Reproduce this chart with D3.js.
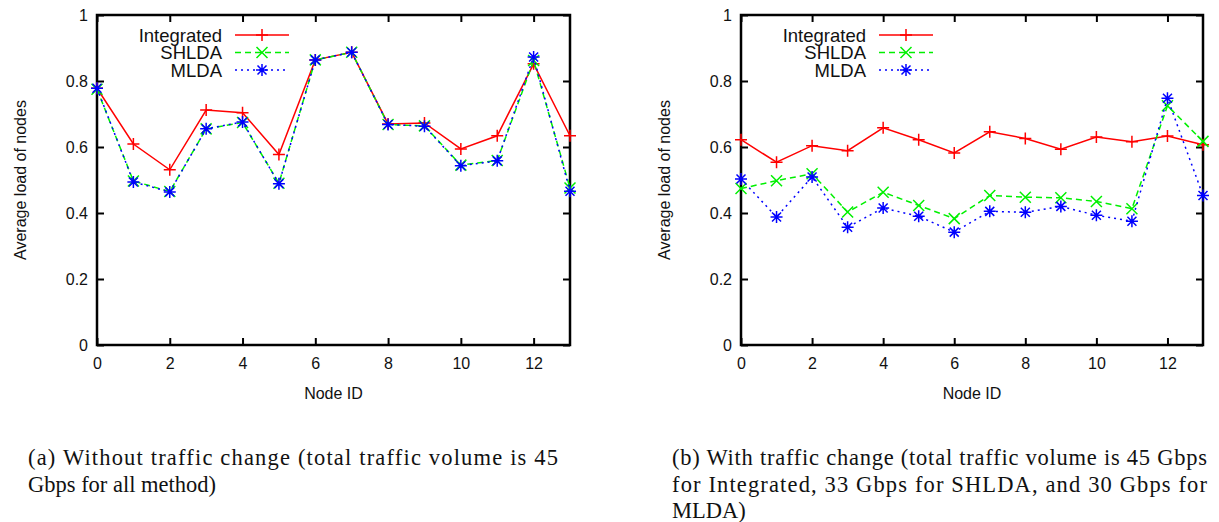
<!DOCTYPE html>
<html>
<head>
<meta charset="utf-8">
<script src="https://cdn.jsdelivr.net/npm/d3@7"></script>
<style>
  body { margin: 0; background: #fff; }
  svg { display: block; }
</style>
</head>
<body>
<svg id="chart"></svg>
<script>
const nodes = d3.range(0, 14);
const yTicks = [0, 0.2, 0.4, 0.6, 0.8, 1];
const xTicks = [0, 2, 4, 6, 8, 10, 12];
const seriesNames = ["Integrated", "SHLDA", "MLDA"];

// panel (a): without traffic change
const integratedA = [0.778, 0.609, 0.531, 0.712, 0.704, 0.577, 0.864, 0.887, 0.670, 0.673, 0.594, 0.634, 0.852, 0.634];
const shldaA      = [0.775, 0.497, 0.465, 0.655, 0.674, 0.490, 0.864, 0.887, 0.668, 0.664, 0.545, 0.559, 0.862, 0.476];
const mldaA       = [0.778, 0.494, 0.464, 0.655, 0.676, 0.489, 0.864, 0.887, 0.668, 0.663, 0.543, 0.558, 0.873, 0.466];

// panel (b): with traffic change
const integratedB = [0.622, 0.554, 0.604, 0.589, 0.658, 0.622, 0.582, 0.646, 0.626, 0.593, 0.630, 0.616, 0.633, 0.607];
const shldaB      = [0.474, 0.498, 0.519, 0.403, 0.463, 0.423, 0.383, 0.453, 0.448, 0.446, 0.435, 0.413, 0.725, 0.617];
const mldaB       = [0.503, 0.388, 0.509, 0.357, 0.415, 0.390, 0.342, 0.405, 0.402, 0.420, 0.393, 0.375, 0.748, 0.453];

const captionA = ["(a) Without traffic change (total traffic volume is 45", "Gbps for all method)"];
const captionB = ["(b) With traffic change (total traffic volume is 45 Gbps", "for Integrated, 33 Gbps for SHLDA, and 30 Gbps for", "MLDA)"];

const width = 1219;
const height = 522;

const svg = d3.select("#chart")
    .attr("width", width)
    .attr("height", height);

const styles = [
    { color: "#ff0000", dash: null, marker: "plus" },
    { color: "#00f000", dash: "6,4", marker: "cross" },
    { color: "#0000ff", dash: "2,4", marker: "star" }
];

// marker paths centered on 0,0
const markerPath = (type) => {
    const p = 6, c = 4.5;
    const plus = `M${-p},0H${p}M0,${-p}V${p}`;
    const cross = `M${-c},${-c}L${c},${c}M${-c},${c}L${c},${-c}`;
    if (type === "plus") return plus;
    if (type === "cross") return `M-5.5,-5.5L5.5,5.5M-5.5,5.5L5.5,-5.5`;
    return plus + cross;
};

const drawPanel = (left, right, series, legendRight, caption, captionX, captionW) => {
    const top = 15, bottom = 345;
    const x = d3.scaleLinear().domain([0, 13]).range([left, right]);
    const y = d3.scaleLinear().domain([0, 1]).range([bottom, top]);

    const g = svg.append("g");

    // inward ticks on all four sides
    g.append("g")
        .attr("transform", `translate(0,${bottom})`)
        .call(d3.axisBottom(x).tickValues(xTicks).tickSizeInner(-7).tickSizeOuter(0).tickPadding(13).tickFormat(d3.format("d")));
    g.append("g")
        .attr("transform", `translate(0,${top})`)
        .call(d3.axisTop(x).tickValues(xTicks).tickSizeInner(-7).tickSizeOuter(0).tickFormat(""));
    g.append("g")
        .attr("transform", `translate(${left},0)`)
        .call(d3.axisLeft(y).tickValues(yTicks).tickSizeInner(-7).tickSizeOuter(0).tickPadding(9).tickFormat(d => d === 0 || d === 1 ? d3.format("d")(d) : d3.format(".1f")(d)));
    g.append("g")
        .attr("transform", `translate(${right},0)`)
        .call(d3.axisRight(y).tickValues(yTicks).tickSizeInner(-7).tickSizeOuter(0).tickFormat(""));

    g.selectAll(".domain").remove();
    g.selectAll(".tick line").attr("stroke", "#000").attr("stroke-width", 2);
    g.selectAll(".tick text")
        .attr("fill", "#111")
        .style("font-family", "'Liberation Sans', Arial, sans-serif")
        .style("font-size", "16px");

    g.append("rect")
        .attr("x", left).attr("y", top)
        .attr("width", right - left).attr("height", bottom - top)
        .attr("fill", "none").attr("stroke", "#000").attr("stroke-width", 2.5);

    // axis titles
    g.append("text")
        .attr("x", (left + right) / 2)
        .attr("y", 399)
        .attr("text-anchor", "middle")
        .style("font-family", "'Liberation Sans', Arial, sans-serif")
        .style("font-size", "16px")
        .attr("fill", "#111")
        .text("Node ID");
    g.append("text")
        .attr("transform", `translate(${left - 71},${(top + bottom) / 2}) rotate(-90)`)
        .attr("text-anchor", "middle")
        .style("font-family", "'Liberation Sans', Arial, sans-serif")
        .style("font-size", "16px")
        .attr("fill", "#111")
        .text("Average load of nodes");

    const line = d3.line().x((d, i) => x(nodes[i])).y(d => y(d));

    series.forEach((vals, k) => {
        const st = styles[k];
        g.append("path")
            .datum(vals)
            .attr("d", line)
            .attr("fill", "none")
            .attr("stroke", st.color)
            .attr("stroke-width", 1.5)
            .attr("stroke-dasharray", st.dash);
        g.selectAll(null)
            .data(vals)
            .enter()
            .append("path")
            .attr("transform", (d, i) => `translate(${x(nodes[i])},${y(d)})`)
            .attr("d", markerPath(st.marker))
            .attr("fill", "none")
            .attr("stroke", st.color)
            .attr("stroke-width", 1.5);
    });

    // legend
    const legend = g.append("g");
    seriesNames.forEach((name, k) => {
        const st = styles[k];
        const ly = 35 + k * 17.5;
        legend.append("text")
            .attr("x", legendRight)
            .attr("y", ly + 6.5)
            .attr("text-anchor", "end")
            .style("font-family", "'Liberation Sans', Arial, sans-serif")
            .style("font-size", "18.5px")
            .attr("fill", "#111")
            .text(name);
        legend.append("line")
            .attr("x1", legendRight + 13).attr("x2", legendRight + 67)
            .attr("y1", ly).attr("y2", ly)
            .attr("stroke", st.color)
            .attr("stroke-width", 1.5)
            .attr("stroke-dasharray", st.dash);
        legend.append("path")
            .attr("transform", `translate(${legendRight + 40},${ly})`)
            .attr("d", markerPath(st.marker))
            .attr("fill", "none")
            .attr("stroke", st.color)
            .attr("stroke-width", 1.5);
    });

    // caption, justified except last line
    caption.forEach((txt, i) => {
        const t = svg.append("text")
            .attr("x", captionX)
            .attr("y", 465 + i * 26.5)
            .style("font-family", "'Liberation Serif', 'Times New Roman', serif")
            .style("font-size", "22.5px")
            .attr("fill", "#111")
            .text(txt);
        if (i < caption.length - 1) {
            t.attr("textLength", captionW).attr("lengthAdjust", "spacing");
        }
    });
};

drawPanel(97, 570, [integratedA, shldaA, mldaA], 222, captionA, 28, 530);
drawPanel(741, 1203, [integratedB, shldaB, mldaB], 866, captionB, 672, 535);
</script>
</body>
</html>
